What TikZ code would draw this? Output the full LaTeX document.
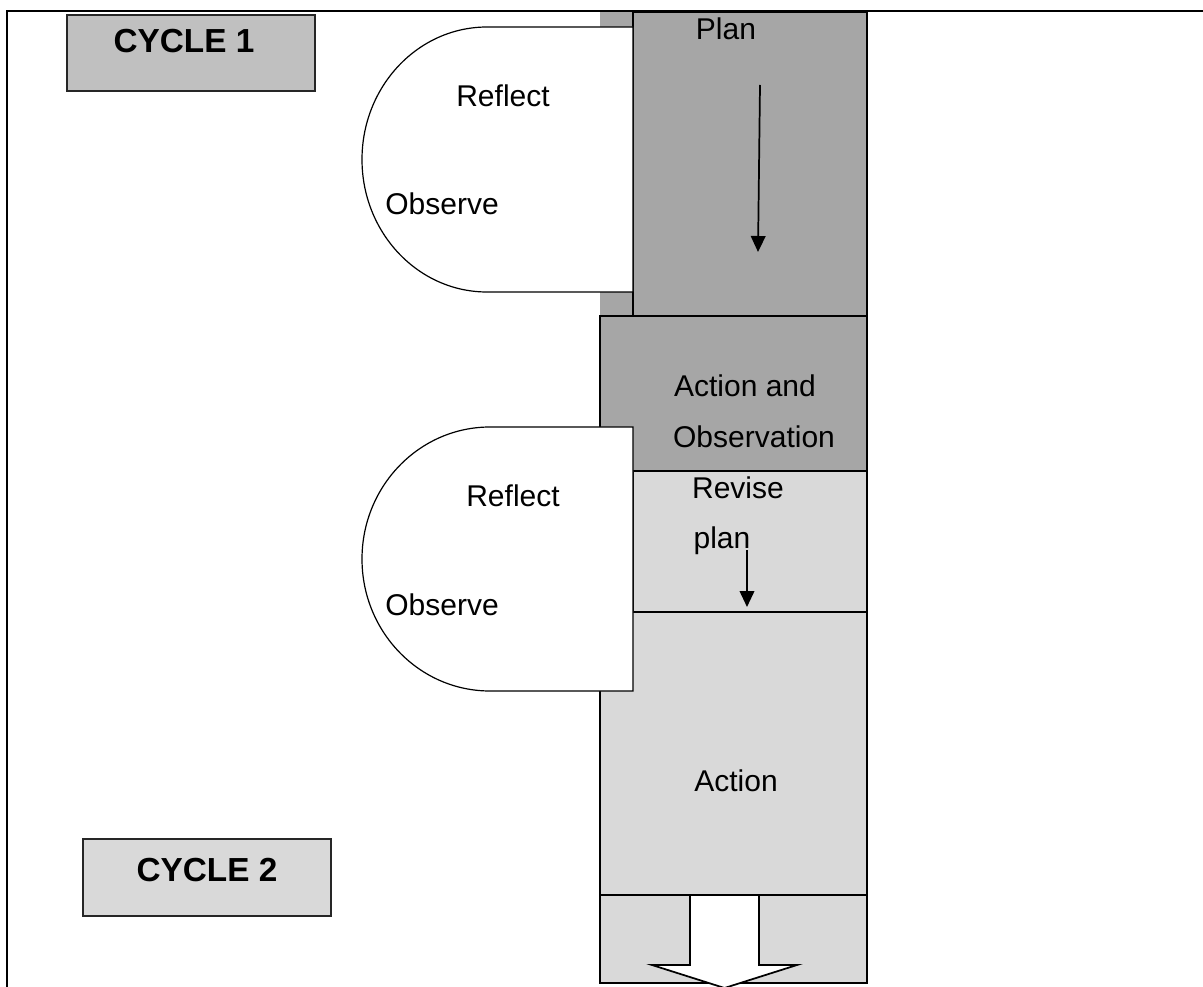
\documentclass[tikz,border=0pt]{standalone}
\usepackage{fontspec}
\setmainfont{Liberation Sans}
\usetikzlibrary{arrows.meta}
\definecolor{darkfill}{HTML}{A6A6A6}
\definecolor{lightfill}{HTML}{D9D9D9}
\definecolor{cyclefill}{HTML}{C0C0C0}
\begin{document}
\begin{tikzpicture}[x=0.75pt,y=-0.75pt,
  boxline/.style={draw=black,line width=1.6pt},
  halfround/.style={draw=black,fill=white,line width=0.9pt},
  label/.style={inner sep=0pt,anchor=base,font=\fontsize{22.5}{26}\selectfont},
  cyclelabel/.style={inner sep=0pt,anchor=base,font=\fontsize{25}{29}\selectfont\bfseries},
  flowarrow/.style={line width=1.3pt,-{Triangle[length=12pt,width=11pt]}}]
\useasboundingbox (0,0) rectangle (1203,987);

% outer frame
\draw[line width=2.2pt] (7,987) -- (7,11) -- (1203,11);

% cycle tags
\filldraw[fill=cyclefill,draw=black!85,line width=1.3pt] (67,15) rectangle (315,91);
\node[cyclelabel] (cyc1) at (184,53) {CYCLE 1};
\filldraw[fill=lightfill,draw=black!85,line width=1.3pt] (83,839) rectangle (331,916);
\node[cyclelabel] (cyc2) at (207,881) {CYCLE 2};

% cycle 1: plan column
\fill[darkfill] (600,12) rectangle (867,316);
\filldraw[fill=darkfill,boxline] (633,12) rectangle (867,316);
\node[label] (plan) at (726,40) {Plan};
\coordinate (planTop) at (760,85);
\coordinate (planBot) at (758,252);
\draw[flowarrow] (planTop) -- (planBot);

% cycle 1: reflect / observe
\draw[halfround] (633,27) -- (487,27) arc[start angle=270,end angle=90,x radius=125,y radius=132.5] -- (633,292) -- cycle;
\node[label] (refl1) at (503,107) {Reflect};
\node[label] (obs1) at (442,215) {Observe};

% action and observation
\filldraw[fill=darkfill,boxline] (600,316) rectangle (867,471);
\node[label] (actobs1) at (745,397) {Action and};
\node[label] (actobs2) at (754,447) {Observation};

% cycle 2: revise plan
\filldraw[fill=lightfill,boxline] (633,471) rectangle (867,612);
\node[label] (rev1) at (738,498) {Revise};
\node[label] (rev2) at (722,548) {plan};
\coordinate (revTop) at (747,550);
\coordinate (revBot) at (747,607);
\draw[flowarrow] (revTop) -- (revBot);

% cycle 2: action
\filldraw[fill=lightfill,boxline] (600,612) rectangle (867,895);
\node[label] (act) at (736,791) {Action};
\filldraw[fill=lightfill,boxline] (600,895) rectangle (867,983);

% outgoing block arrow
\filldraw[fill=white,draw=black,line width=1.3pt]
  (690,896) -- (690,965) -- (652,965) -- (724.5,988) -- (797,965) -- (759,965) -- (759,896);

% cycle 2: reflect / observe
\draw[halfround] (633,427) -- (490,427) arc[start angle=270,end angle=90,x radius=128,y radius=132] -- (633,691) -- cycle;
\node[label] (refl2) at (513,506) {Reflect};
\node[label] (obs2) at (442,615) {Observe};
\end{tikzpicture}
\end{document}
